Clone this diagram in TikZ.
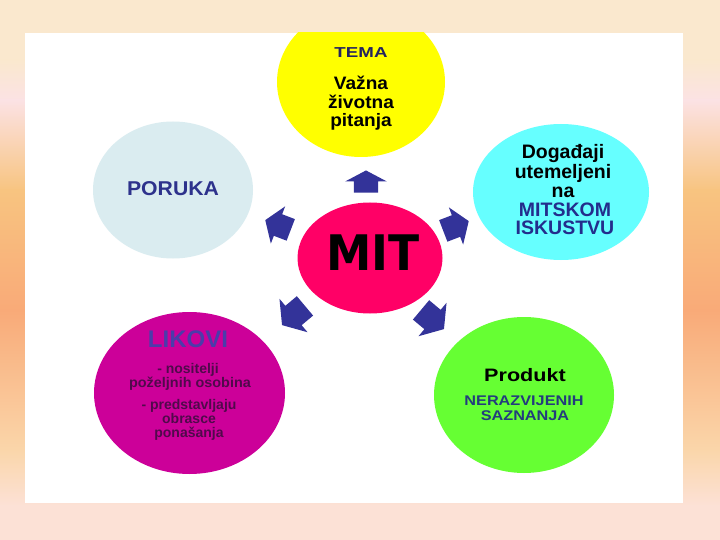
\documentclass[tikz,border=0pt]{standalone}
\usepackage{fontspec}
\usepackage{graphicx}
\setmainfont{Liberation Sans}
\newfontfamily\mitfont{DejaVu Sans}
\usetikzlibrary{shapes.geometric}
\newcommand\myhs[2]{\scalebox{#1}[1]{#2}}
\definecolor{bg0}{RGB}{250,232,206}
\definecolor{bg1}{RGB}{251,226,228}
\definecolor{bg2}{RGB}{248,196,128}
\definecolor{bg3}{RGB}{249,170,120}
\definecolor{bg4}{RGB}{250,214,170}
\definecolor{bg5}{RGB}{252,225,214}
\definecolor{yel}{RGB}{255,255,0}
\definecolor{lblue}{RGB}{218,236,240}
\definecolor{cyanc}{RGB}{102,255,255}
\definecolor{mitc}{RGB}{255,0,102}
\definecolor{magc}{RGB}{204,0,153}
\definecolor{grn}{RGB}{102,255,51}
\definecolor{arr}{RGB}{51,51,153}
\definecolor{temablue}{RGB}{35,35,95}
\definecolor{porblue}{RGB}{45,50,140}
\definecolor{mitblue}{RGB}{35,45,140}
\definecolor{likblue}{RGB}{75,60,170}
\definecolor{likpurple}{RGB}{80,10,75}
\definecolor{nerblue}{RGB}{35,60,125}
\tikzset{
  blob/.style={ellipse, inner sep=0pt, outer sep=0pt},
  txt/.style={inner sep=0pt, anchor=base},
  blockarrow/.pic={\fill[arr] (-13,-11) -- (0,-11) -- (0,-19) -- (13,0) -- (0,19) -- (0,11) -- (-13,11) -- cycle;}
}
\begin{document}
\begin{tikzpicture}[x=1pt,y=-1pt]
\useasboundingbox (0,0) rectangle (720,540);
% background gradient
\fill[bg0] (0,0) rectangle (720,61);
\shade[top color=bg0,bottom color=bg1] (0,60) rectangle (720,101);
\shade[top color=bg1,bottom color=bg2] (0,100) rectangle (720,191);
\shade[top color=bg2,bottom color=bg3] (0,190) rectangle (720,311);
\shade[top color=bg3,bottom color=bg4] (0,310) rectangle (720,451);
\shade[top color=bg4,bottom color=bg5] (0,450) rectangle (720,506);
\fill[bg5] (0,505) rectangle (720,540);
% white panel
\fill[white] (25,33) rectangle (683,503);
\begin{scope}
\clip (25,33) rectangle (683,503);
\node[blob, fill=yel, minimum width=168pt, minimum height=150pt] (tema) at (361,82) {};
\node[blob, fill=lblue, minimum width=160pt, minimum height=137pt] (poruka) at (173,190) {};
\node[blob, fill=cyanc, minimum width=176pt, minimum height=136pt] (dog) at (561,192) {};
\node[blob, fill=mitc, minimum width=145pt, minimum height=111pt] (mit) at (370,258) {};
\node[blob, fill=magc, minimum width=191pt, minimum height=162pt] (likovi) at (189.5,393) {};
\node[blob, fill=grn, minimum width=180pt, minimum height=156pt] (prod) at (524,395) {};
\end{scope}
% block arrows
\pic[rotate=90, xscale=0.85, yscale=1.1] at (366,181.5) {blockarrow};
\pic[rotate=159, scale=1.05] at (278,225) {blockarrow};
\pic[rotate=21, scale=1.05] at (456,226) {blockarrow};
\pic[rotate=220, scale=1.15] at (293.5,315.5) {blockarrow};
\pic[rotate=-40, scale=1.15] at (432.5,319.5) {blockarrow};
% texts: TEMA
\node[txt, text=temablue, font=\bfseries\fontsize{14.4}{16}\selectfont] (t1) at (361,58) {\myhs{1.3}{TEMA}};
\node[txt, font=\bfseries\fontsize{18}{20}\selectfont] (t2) at (361,90) {\myhs{1.06}{Važna}};
\node[txt, font=\bfseries\fontsize{18}{20}\selectfont] (t3) at (361,108.5) {\myhs{1.06}{životna}};
\node[txt, font=\bfseries\fontsize{18}{20}\selectfont] (t4) at (361,127) {\myhs{1.06}{pitanja}};
% PORUKA
\node[txt, text=porblue, font=\bfseries\fontsize{20}{22}\selectfont] (p1) at (173,196) {\myhs{1.06}{PORUKA}};
% Dogadjaji
\node[txt, font=\bfseries\fontsize{19.5}{22}\selectfont] (d1) at (563,159) {Događaji};
\node[txt, font=\bfseries\fontsize{19.5}{22}\selectfont] (d2) at (563,178.5) {utemeljeni};
\node[txt, font=\bfseries\fontsize{19.5}{22}\selectfont] (d3) at (563,197.5) {na};
\node[txt, text=mitblue, font=\bfseries\fontsize{19.5}{22}\selectfont] (d4) at (565,216) {MITSKOM};
\node[txt, text=mitblue, font=\bfseries\fontsize{19.5}{22}\selectfont] (d5) at (565,234) {ISKUSTVU};
% MIT
\node[txt, font=\mitfont\bfseries\fontsize{49}{51}\selectfont] (m1) at (373,270) {\myhs{0.93}{MIT}};
% LIKOVI
\node[txt, text=likblue, font=\bfseries\fontsize{24}{26}\selectfont] (l1) at (188,347) {LIKOVI};
\node[txt, text=likpurple, font=\bfseries\fontsize{14}{16}\selectfont] (l2) at (188,373.5) {- nositelji};
\node[txt, text=likpurple, font=\bfseries\fontsize{14}{16}\selectfont] (l3) at (190,387.5) {\myhs{1.03}{poželjnih osobina}};
\node[txt, text=likpurple, font=\bfseries\fontsize{14}{16}\selectfont] (l4) at (189,409) {- predstavljaju};
\node[txt, text=likpurple, font=\bfseries\fontsize{14}{16}\selectfont] (l5) at (189,423) {obrasce};
\node[txt, text=likpurple, font=\bfseries\fontsize{14}{16}\selectfont] (l6) at (189,437) {ponašanja};
% Produkt
\node[txt, font=\bfseries\fontsize{18}{20}\selectfont] (g1) at (525,381) {\myhs{1.2}{Produkt}};
\node[txt, text=nerblue, font=\bfseries\fontsize{14}{16}\selectfont] (g2) at (524,405) {\myhs{1.16}{NERAZVIJENIH}};
\node[txt, text=nerblue, font=\bfseries\fontsize{14}{16}\selectfont] (g3) at (525,420) {\myhs{1.16}{SAZNANJA}};
\end{tikzpicture}
\end{document}
